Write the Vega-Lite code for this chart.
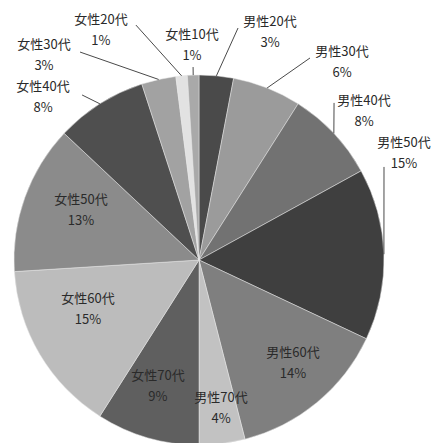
{
  "$schema": "https://vega.github.io/schema/vega-lite/v6.json",
  "width": 370,
  "height": 370,
  "autosize": {"type": "none"},
  "padding": {"left": 14, "top": 75, "right": 50, "bottom": 0},
  "background": "white",
  "config": {
    "view": {"stroke": null},
    "text": {"font": "Noto Sans CJK JP", "fontSize": 13, "fontWeight": "normal", "color": "#2a2a2a"}
  },
  "data": {
    "values": [
      {"cat": "男性20代", "pct": 3},
      {"cat": "男性30代", "pct": 6},
      {"cat": "男性40代", "pct": 8},
      {"cat": "男性50代", "pct": 15},
      {"cat": "男性60代", "pct": 14},
      {"cat": "男性70代", "pct": 4},
      {"cat": "女性70代", "pct": 9},
      {"cat": "女性60代", "pct": 15},
      {"cat": "女性50代", "pct": 13},
      {"cat": "女性40代", "pct": 8},
      {"cat": "女性30代", "pct": 3},
      {"cat": "女性20代", "pct": 1},
      {"cat": "女性10代", "pct": 1}
    ]
  },
  "transform": [
    {"window": [{"op": "row_number", "as": "rn"}]},
    {"window": [{"op": "sum", "field": "pct", "as": "cum"}], "sort": [{"field": "rn"}], "frame": [null, 0]},
    {"calculate": "datum.cum - datum.pct", "as": "start"},
    {"calculate": "datum.cum - datum.pct / 2", "as": "mid"},
    {"calculate": "sin(datum.mid / 100 * 2 * PI)", "as": "edgeX"},
    {"calculate": "cos(datum.mid / 100 * 2 * PI)", "as": "edgeY"},
    {"calculate": "indexof(['男性20代','男性30代','男性40代','男性50代','男性60代','男性70代','女性70代','女性60代','女性50代','女性40代','女性30代','女性20代','女性10代'], datum.cat)", "as": "k"},
    {"calculate": "[0.384, 0.773, 0.892, 1.108, 0.508, 0.119, -0.222, -0.600, -0.638, -0.843, -0.838, -0.530, -0.038][datum.k]", "as": "labelX"},
    {"calculate": "[1.232, 1.070, 0.805, 0.573, -0.562, -0.805, -0.686, -0.270, 0.270, 0.876, 1.108, 1.238, 1.157][datum.k]", "as": "labelY"},
    {"calculate": "[0.211, 0.600, 0.730, 1.0, 0, 0, 0, 0, 0, -0.632, -0.643, -0.341, -0.032][datum.k]", "as": "leadX"},
    {"calculate": "[1.254, 1.092, 0.849, 0.503, 0, 0, 0, 0, 0, 0.892, 1.124, 1.270, 1.043][datum.k]", "as": "leadY"},
    {"calculate": "datum.k <= 3 || datum.k >= 9", "as": "outside"},
    {"calculate": "datum.cat + '\\n' + datum.pct + '%'", "as": "label"}
  ],
  "layer": [
    {
      "mark": {"type": "arc", "stroke": "#e6e6e6", "strokeWidth": 0.5},
      "encoding": {
        "theta": {"field": "start", "type": "quantitative", "stack": null, "scale": {"domain": [0, 100], "range": [0, 6.283185307179586]}},
        "theta2": {"field": "cum"},
        "color": {
          "field": "cat",
          "type": "nominal",
          "legend": null,
          "scale": {
            "domain": ["男性20代","男性30代","男性40代","男性50代","男性60代","男性70代","女性70代","女性60代","女性50代","女性40代","女性30代","女性20代","女性10代"],
            "range": ["#4a4a4a","#9b9b9b","#727272","#3f3f3f","#7f7f7f","#c2c2c2","#5f5f5f","#bcbcbc","#8b8b8b","#4f4f4f","#a2a2a2","#e2e2e2","#a9a9a9"]
          }
        }
      }
    },
    {
      "transform": [{"filter": "datum.outside"}],
      "mark": {"type": "rule", "color": "#4a4a4a", "strokeWidth": 1},
      "encoding": {
        "x": {"field": "edgeX", "type": "quantitative", "axis": null, "scale": {"domain": [-1, 1], "nice": false, "zero": false}},
        "y": {"field": "edgeY", "type": "quantitative", "axis": null, "scale": {"domain": [-1, 1], "nice": false, "zero": false}},
        "x2": {"field": "leadX"},
        "y2": {"field": "leadY"}
      }
    },
    {
      "mark": {"type": "text", "align": "center", "baseline": "middle", "lineBreak": "\n", "lineHeight": 21, "dy": -10.5},
      "encoding": {
        "x": {"field": "labelX", "type": "quantitative", "axis": null, "scale": {"domain": [-1, 1], "nice": false, "zero": false}},
        "y": {"field": "labelY", "type": "quantitative", "axis": null, "scale": {"domain": [-1, 1], "nice": false, "zero": false}},
        "text": {"field": "label"}
      }
    }
  ]
}
